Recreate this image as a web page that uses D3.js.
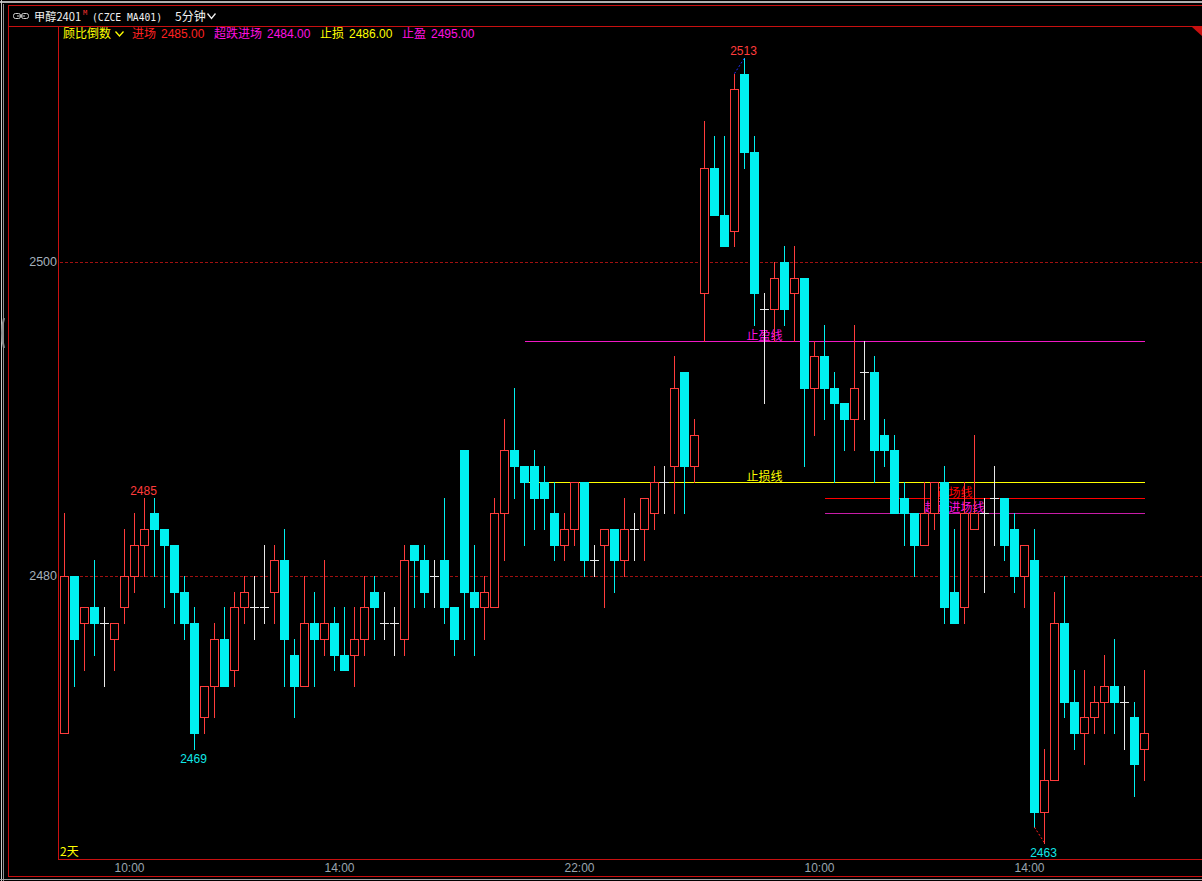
<!DOCTYPE html>
<html>
<head>
<meta charset="utf-8">
<script src="https://cdn.jsdelivr.net/npm/d3@7/dist/d3.min.js"></script>
<style>
html,body{margin:0;padding:0;background:#000;}
svg{display:block;}
text{font-family:"Noto Sans CJK SC","Noto Sans",sans-serif;}
</style>
</head>
<body>
<svg id="chart" width="1202" height="881"></svg>
<script>
// ---------------- DATA ----------------
const opens  = [2470,2480,2477,2478,2477,2476,2478,2480,2482,2484,2483,2482,2479,2477,2471,2473,2476,2474,2478,2478,
                2478,2479,2481,2475,2473,2477,2476,2477,2475,2475,2476,2479,2477,2477,2476,2482,2481,2480,2481,2478,
                2488,2479,2478,2478,2484,2488,2487,2487,2486,2484,2482,2483,2486,2481,2482,2483,2481,2483,2483,2484,
                2486,2487,2493,2487,2498,2506,2503,2502,2512,2507,2497,2497,2500,2498,2499,2492,2494,2492,2491,2490,
                2493,2493,2489,2488,2485,2484,2482,2484,2486,2479,2478,2483,2484,2485,2485,2483,2480,2481,2465,2467,
                2477,2472,2470,2471,2472,2473,2472,2471,2469];
const highs  = [2484,2480,2478,2481,2478,2477,2483,2484,2485,2485,2483,2482,2480,2478,2473,2477,2478,2479,2480,2480,
                2482,2482,2483,2476,2480,2479,2481,2478,2478,2478,2480,2480,2479,2478,2482,2482,2482,2481,2485,2478,
                2488,2482,2480,2485,2490,2492,2487,2488,2487,2486,2484,2486,2486,2482,2483,2483,2485,2484,2485,2487,
                2487,2494,2493,2490,2509,2508,2508,2512,2513,2508,2498,2500,2501,2501,2499,2495,2496,2493,2491,2496,
                2495,2494,2490,2489,2486,2484,2486,2486,2487,2483,2486,2489,2485,2487,2485,2484,2482,2483,2469,2479,
                2480,2474,2474,2473,2475,2476,2473,2472,2474];
const lows   = [2470,2473,2474,2475,2473,2474,2477,2479,2480,2480,2478,2477,2476,2469,2470,2471,2473,2473,2477,2476,
                2477,2477,2473,2471,2473,2473,2475,2474,2474,2473,2475,2476,2476,2475,2475,2478,2478,2478,2477,2475,
                2476,2475,2476,2478,2481,2485,2482,2483,2483,2481,2481,2482,2480,2480,2478,2479,2480,2481,2481,2483,
                2484,2484,2484,2486,2495,2503,2501,2501,2506,2496,2491,2495,2496,2495,2487,2489,2490,2486,2488,2488,
                2490,2486,2487,2484,2482,2480,2482,2483,2477,2477,2477,2483,2479,2482,2481,2479,2478,2464,2463,2467,
                2471,2469,2468,2470,2470,2470,2469,2466,2467];
const closes = [2480,2476,2478,2477,2477,2477,2480,2482,2483,2483,2482,2479,2477,2470,2473,2476,2473,2478,2479,2478,
                2478,2481,2476,2473,2477,2476,2477,2475,2474,2476,2478,2478,2477,2477,2481,2481,2479,2480,2478,2476,
                2479,2478,2479,2484,2488,2487,2486,2485,2485,2482,2483,2486,2481,2481,2483,2481,2483,2483,2485,2486,
                2486,2492,2487,2489,2506,2503,2501,2511,2507,2498,2497,2499,2497,2499,2492,2494,2492,2491,2490,2492,
                2493,2488,2488,2484,2484,2482,2484,2486,2478,2477,2484,2484,2484,2485,2482,2480,2482,2465,2467,2477,
                2472,2470,2471,2472,2473,2472,2472,2468,2470];

const timeLabels    = ["10:00","14:00","22:00","10:00","14:00"];
const timeTickIndex = [6, 27, 51, 75, 96];       // label sits after this bar
const yTickValues   = [2500, 2480];

// signal lines
const lineNames  = ["止盈线","止损线","进场线","超跌进场线"];
const linePrices = [2495, 2486, 2485, 2484];
const lineStart  = [46, 46, 76, 76];
const lineLabelAt= [70, 70, 89, 89];

// high/low markers
const markIndex = [8, 13, 68, 98];
const markPrice = [2485, 2469, 2513, 2463];
const markType  = ["high","low","high","low"];

// header info
const headerNames  = ["进场","超跌进场","止损","止盈"];
const headerValues = [2485, 2484, 2486, 2495];

// ---------------- DRAW ----------------
const svg = d3.select("#chart");
const W = 1202, H = 881;
const RED = "#ff3c3c", CYAN = "#00f0f0", WHITE = "#e8e8e8";
const n = closes.length;

const x = d3.scaleLinear().domain([0, n - 1]).range([64.5, 64.5 + 10 * (n - 1)]);
const y = d3.scaleLinear().domain([2480, 2500]).range([576, 262]);
const sy = v => Math.round(y(v));

svg.append("rect").attr("width", W).attr("height", H).attr("fill", "#000");

// frame
const frame = svg.append("g").attr("shape-rendering", "crispEdges");
frame.append("line").attr("x1",0).attr("x2",W).attr("y1",1.5).attr("y2",1.5).attr("stroke","#b0b0b0").attr("stroke-width",2);
frame.append("line").attr("x1",1.5).attr("x2",1.5).attr("y1",0).attr("y2",H).attr("stroke","#c8c8c8");
frame.append("line").attr("x1",3.5).attr("x2",3.5).attr("y1",4).attr("y2",H).attr("stroke","#909090");
frame.append("line").attr("x1",8.5).attr("x2",8.5).attr("y1",5).attr("y2",877).attr("stroke","#c81010");
frame.append("line").attr("x1",8.5).attr("x2",W).attr("y1",5.5).attr("y2",5.5).attr("stroke","#c81010");
frame.append("line").attr("x1",8.5).attr("x2",W).attr("y1",26.5).attr("y2",26.5).attr("stroke","#c81010");
frame.append("line").attr("x1",58.5).attr("x2",58.5).attr("y1",26.5).attr("y2",859.5).attr("stroke","#c81010");
frame.append("line").attr("x1",58.5).attr("x2",W).attr("y1",859.5).attr("y2",859.5).attr("stroke","#c81010");
frame.append("line").attr("x1",8.5).attr("x2",W).attr("y1",876.5).attr("y2",876.5).attr("stroke","#c81010");
frame.append("line").attr("x1",0).attr("x2",W).attr("y1",879.5).attr("y2",879.5).attr("stroke","#a0a0a0");
svg.append("polygon").attr("points","1192,27 1202,27 1202,36").attr("fill","#c81010");
svg.append("path").attr("d","M4,318 Q0,333 4,348").attr("fill","none").attr("stroke","#909090").attr("stroke-width",2);

// grid + y labels
const grid = svg.append("g");
yTickValues.forEach(v => {
  grid.append("line").attr("x1",60).attr("x2",W).attr("y1",sy(v)+0.5).attr("y2",sy(v)+0.5)
    .attr("stroke","#a01010").attr("stroke-dasharray","3,2").attr("shape-rendering","crispEdges");
  grid.append("text").attr("x",57).attr("y",sy(v)+0.5).attr("text-anchor","end").attr("dominant-baseline","middle")
    .attr("fill","#a4b0bc").attr("font-size",12.5).style("font-family","'Liberation Sans',Arial,sans-serif").text(v);
});

// x axis labels
const xa = svg.append("g");
timeLabels.forEach((t, k) => {
  xa.append("text").attr("x", x(timeTickIndex[k]) + 5).attr("y", 869).attr("text-anchor","middle")
    .attr("dominant-baseline","middle").attr("fill","#9aa4ae").attr("font-size",12)
    .style("font-family","'Liberation Sans Narrow','Liberation Sans',Arial,sans-serif").text(t);
});
svg.append("text").attr("x",60).attr("y",856).attr("fill","#ffff00").attr("font-size",12).text("2天");

// signal lines
const lineColors = ["#f018c4","#ffff00","#ff0000","#c81ca8"];
const labelColors = ["#ff10e0","#ffff00","#ff0000","#ff10e0"];
const sl = svg.append("g");
linePrices.forEach((p, k) => {
  sl.append("line").attr("x1", x(lineStart[k])).attr("x2", x(n - 1)).attr("y1", sy(p)+0.5).attr("y2", sy(p)+0.5)
    .attr("stroke", lineColors[k]).attr("shape-rendering","crispEdges");
});

// candles
const cg = svg.append("g").attr("shape-rendering","crispEdges");
d3.range(n).forEach(i => {
  const o = opens[i], c = closes[i], h = highs[i], l = lows[i];
  const cx = x(i);
  const col = c > o ? RED : (c < o ? CYAN : WHITE);
  cg.append("line").attr("x1",cx).attr("x2",cx).attr("y1",sy(h)).attr("y2",sy(l)+1).attr("stroke",col);
  if (c > o) {
    cg.append("rect").attr("x",cx-4).attr("y",sy(c)+0.5).attr("width",8).attr("height",sy(o)-sy(c))
      .attr("fill","#000").attr("stroke",RED);
  } else if (c < o) {
    cg.append("rect").attr("x",cx-4.5).attr("y",sy(o)).attr("width",9).attr("height",sy(c)-sy(o)+1)
      .attr("fill",CYAN);
  } else {
    cg.append("line").attr("x1",cx-4.5).attr("x2",cx+4.5).attr("y1",sy(o)+0.5).attr("y2",sy(o)+0.5).attr("stroke",WHITE);
  }
});

// signal line labels
linePrices.forEach((p, k) => {
  sl.append("text").attr("x", x(lineLabelAt[k])).attr("y", sy(p)-1).attr("text-anchor","middle")
    .attr("fill", labelColors[k]).attr("font-size",12).text(lineNames[k]);
});

// high/low markers
const mg = svg.append("g");
const iMax = d3.maxIndex(highs), iMin = d3.minIndex(lows);
mg.append("line").attr("x1",x(iMax-1)).attr("y1",y(highs[iMax-1])).attr("x2",x(iMax)).attr("y2",y(highs[iMax]))
  .attr("stroke","#2030ff").attr("stroke-dasharray","2,2");
mg.append("line").attr("x1",x(iMin-1)).attr("y1",y(lows[iMin-1])).attr("x2",x(iMin)).attr("y2",y(lows[iMin]))
  .attr("stroke","#ff2020").attr("stroke-dasharray","2,2");
markIndex.forEach((idx, k) => {
  const isHigh = markType[k] === "high";
  mg.append("text").attr("x", x(idx) - 1).attr("y", isHigh ? y(markPrice[k]) - 3 : y(markPrice[k]) + 14)
    .attr("text-anchor","middle").attr("fill", isHigh ? "#ff3c3c" : "#10e8e8").attr("font-size",12)
    .style("font-family","'Liberation Sans',Arial,sans-serif").text(markPrice[k]);
});

// header row 1
const hd = svg.append("g");
hd.append("rect").attr("x",13.5).attr("y",13.5).attr("width",7).attr("height",5).attr("rx",2).attr("fill","none").attr("stroke","#d0d0d0");
hd.append("rect").attr("x",21.5).attr("y",13.5).attr("width",7).attr("height",5).attr("rx",2).attr("fill","none").attr("stroke","#d0d0d0");
hd.append("line").attr("x1",17).attr("x2",25).attr("y1",16).attr("y2",16).attr("stroke","#d0d0d0");
hd.append("text").attr("x",34).attr("y",21).attr("fill","#f0f0f0").attr("font-size",11.2).text("甲醇2401");
hd.append("text").attr("x",83).attr("y",15).attr("fill","#ff3030").attr("font-size",7)
  .style("font-family","'DejaVu Sans Mono',monospace").text("M");
hd.append("text").attr("x",92).attr("y",21).attr("fill","#f0f0f0").attr("font-size",10)
  .attr("textLength",70).attr("lengthAdjust","spacingAndGlyphs")
  .style("font-family","'DejaVu Sans Mono',monospace").text("(CZCE MA401)");
hd.append("text").attr("x",175).attr("y",21).attr("fill","#f0f0f0").attr("font-size",12).text("5分钟");
hd.append("path").attr("d","M207.5,13.5 L211.5,18.5 L215.5,13.5").attr("fill","none").attr("stroke","#f0f0f0").attr("stroke-width",1.3);

// header row 2
hd.append("text").attr("x",63).attr("y",38).attr("fill","#ffff00").attr("font-size",12).text("顾比倒数");
hd.append("path").attr("d","M115.5,31.5 L119.5,36 L123.5,31.5").attr("fill","none").attr("stroke","#ffff00").attr("stroke-width",1.3);
const hColors = ["#ff2020","#ff10e0","#ffff00","#ff10e0"];
const hNameX = [132, 214, 320, 402];
headerNames.forEach((nm, k) => {
  const t = hd.append("text").attr("x", hNameX[k]).attr("y",38).attr("fill",hColors[k]).attr("font-size",12);
  t.append("tspan").text(nm);
  t.append("tspan").attr("dx",5).style("font-family","'Liberation Sans',Arial,sans-serif").text(headerValues[k].toFixed(2));
});
</script>
</body>
</html>
